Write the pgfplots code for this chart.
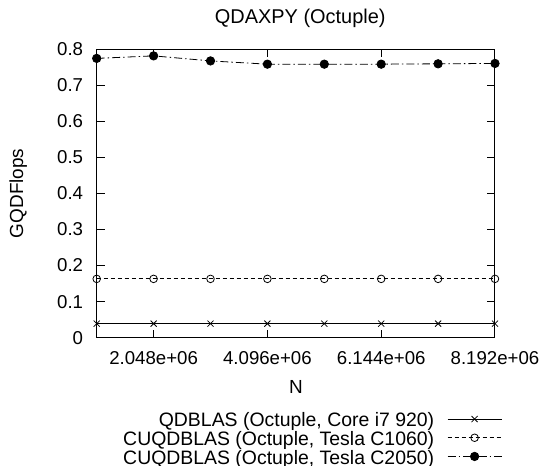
\documentclass[border=0pt]{standalone}
\usepackage{fontspec}
\setmainfont{Liberation Sans}
\usepackage{pgfplots}
\pgfplotsset{compat=1.18}

\begin{document}
\begin{tikzpicture}
% fixed page frame around the plot area (origin = lower-left corner of the axis box)
\useasboundingbox (-96.7bp,-128.3bp) rectangle (447.3bp,337.7bp);
\begin{axis}[
  scale only axis,
  width=398.3bp, height=288.7bp,
  xmin=1024000, xmax=8192000,
  ymin=0, ymax=0.8,
  scaled x ticks=false,
  xtick={2048000,4096000,6144000,8192000},
  xticklabels={2.048e+06,4.096e+06,6.144e+06,8.192e+06},
  ytick={0,0.1,0.2,0.3,0.4,0.5,0.6,0.7,0.8},
  yticklabels={0,0.1,0.2,0.3,0.4,0.5,0.6,0.7,0.8},
  minor tick num=0,
  tick align=inside,
  major tick length=8bp,
  axis line style={line width=1bp},
  every tick/.style={line width=1bp, black},
  tick label style={font=\fontsize{18.7}{22}\selectfont},
  xticklabel style={anchor=north, inner sep=0pt, yshift=-14bp},
  yticklabel style={anchor=east, inner sep=0pt, xshift=-13.4bp},
  title={QDAXPY (Octuple)},
  title style={font=\fontsize{20}{24}\selectfont, at={(axis description cs:0.511,1)}, anchor=base, inner sep=0pt, yshift=19.3bp},
  xlabel={N},
  xlabel style={font=\fontsize{19}{22}\selectfont, at={(axis description cs:0.5,0)}, anchor=center, inner sep=0pt, yshift=-49bp},
  ylabel={GQDFlops},
  ylabel style={font=\fontsize{19}{22}\selectfont, at={(axis description cs:-0.1968,0.5)}, anchor=center, inner sep=0pt},
  clip=false,
  legend plot pos=right,
  legend cell align=right,
  legend image code/.code={%
    \draw[mark repeat=2,mark phase=2,#1] plot coordinates {(0bp,3bp) (27bp,3bp) (54bp,3bp)};},
  legend style={at={(axis description cs:1.0176,-0.2598)}, anchor=north east,
    draw=none, fill=none, inner sep=0pt, outer sep=0pt,
    row sep=0pt, column sep=13bp,
    font=\fontsize{19.5}{22}\selectfont,
    nodes={inner sep=0pt, text height=14bp, text depth=4.7bp}},
]
% QDBLAS on the CPU
\addplot[black, line width=0.8bp, mark=x, mark size=4.3bp, mark options={solid}]
  coordinates {(1024000,0.039) (2048000,0.039) (3072000,0.039) (4096000,0.039)
               (5120000,0.039) (6144000,0.039) (7168000,0.039) (8192000,0.039)};
\addlegendentry{QDBLAS (Octuple, Core i7 920)}
% CUQDBLAS on Tesla C1060
\addplot[black, line width=0.8bp, dash pattern=on 4bp off 3bp, mark=o, mark size=3.8bp, mark options={solid}]
  coordinates {(1024000,0.163) (2048000,0.163) (3072000,0.163) (4096000,0.163)
               (5120000,0.163) (6144000,0.163) (7168000,0.163) (8192000,0.163)};
\addlegendentry{CUQDBLAS (Octuple, Tesla C1060)}
% CUQDBLAS on Tesla C2050
\addplot[black, line width=0.8bp, dash pattern=on 8bp off 3bp on 1.5bp off 3bp, mark=*, mark size=4.2bp, mark options={solid}]
  coordinates {(1024000,0.774) (2048000,0.781) (3072000,0.767) (4096000,0.758)
               (5120000,0.758) (6144000,0.758) (7168000,0.759) (8192000,0.760)};
\addlegendentry{CUQDBLAS (Octuple, Tesla C2050)}
\end{axis}
\end{tikzpicture}
\end{document}
